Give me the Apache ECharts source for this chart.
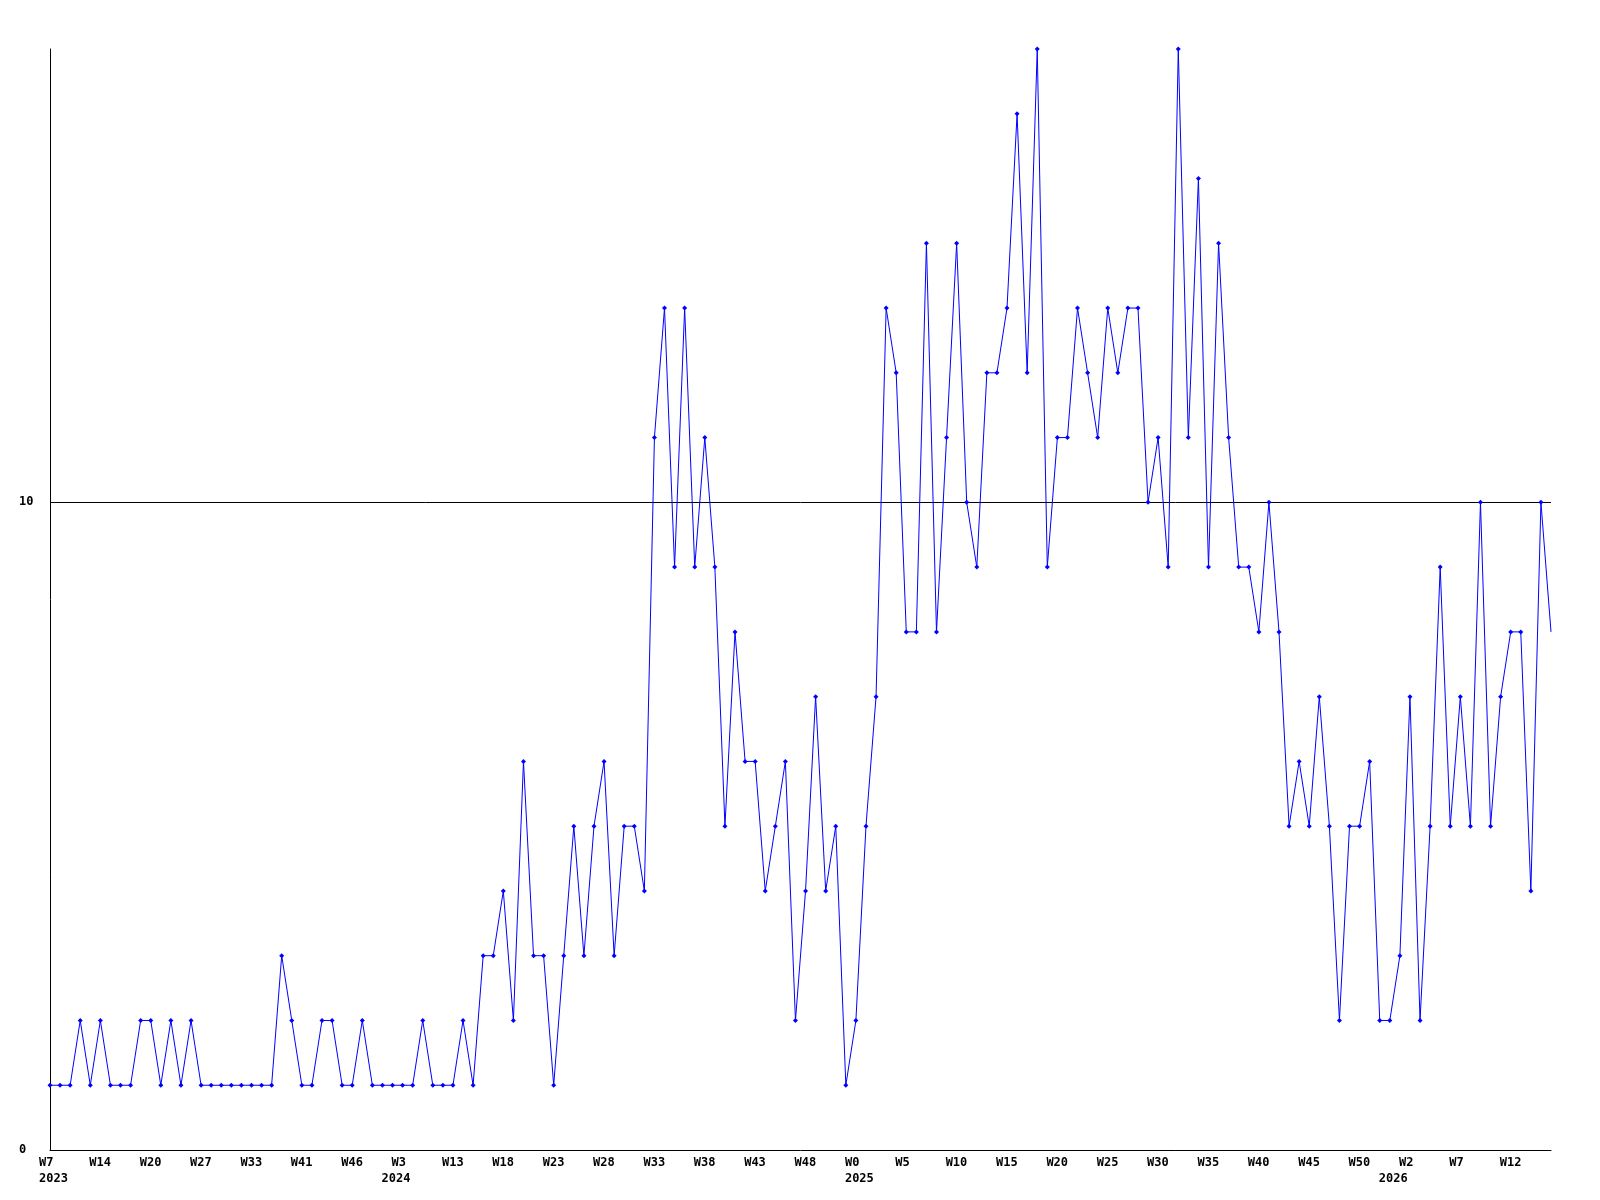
<!DOCTYPE html>
<html>
<head>
<meta charset="utf-8">
<script src="https://cdn.jsdelivr.net/npm/echarts@6/dist/echarts.min.js"></script>
<style>
  html, body { margin: 0; padding: 0; background: #ffffff; }
  #chart { width: 1600px; height: 1200px; }
</style>
</head>
<body>
<div id="chart"></div>
<script>
// Week tick labels shown on every 5th point
const tickLabels = ['W7','W14','W20','W27','W33','W41','W46','W3','W13','W18',
  'W23','W28','W33','W38','W43','W48','W0','W5','W10','W15',
  'W20','W25','W30','W35','W40','W45','W50','W2','W7','W12'];
// Year labels, placed at the first point of each year
const yearLabels = ['2023','2024','2025','2026'];
const yearStartIndex = [0, 34, 80, 133];

// Series values (one per point)
const values = [
  1,1,1,2,1,2,1,1,1,2, 2,1,2,1,2,1,1,1,1,1,
  1,1,1,3,2,1,1,2,2,1, 1,2,1,1,1,1,1,2,1,1,
  1,2,1,3,3,4,2,6,3,3, 1,3,5,3,5,6,3,5,5,4,
  11,13,9,13,9,11,9,5,8,6, 6,4,5,6,2,4,7,4,5,1,
  2,5,7,13,12,8,8,14,8,11, 14,10,9,12,12,13,16,12,17,9,
  11,11,13,12,11,13,12,13,13,10, 11,9,17,11,15,9,14,11,9,9,
  8,10,8,5,6,5,7,5,2,5, 5,6,2,2,3,7,2,5,9,5,
  7,5,10,5,7,8,8,4,10,8
];
const labelEvery = 5;
const yMax = 17;
const yInterval = 10;

const categories = values.map((_, i) => {
  const t = (i % labelEvery === 0) ? (tickLabels[i / labelEvery] || '') : '';
  const yi = yearStartIndex.indexOf(i);
  const y = yi >= 0 ? yearLabels[yi] : '';
  if (!t && !y) return '';
  return y ? t + '\n' + y : t;
});

const chart = echarts.init(document.getElementById('chart'), null, { renderer: 'canvas' });
const font = '"DejaVu Sans Mono", "Liberation Mono", monospace';

chart.setOption({
  backgroundColor: '#ffffff',
  animation: false,
  grid: { left: 50, right: 49, top: 49, bottom: 50 },
  xAxis: {
    type: 'category',
    data: categories,
    boundaryGap: false,
    axisLine: { show: true, lineStyle: { color: '#000000', width: 1 } },
    axisTick: { show: false },
    splitLine: { show: false },
    axisLabel: {
      interval: (index, value) => value !== '',
      hideOverlap: false,
      align: 'left',
      padding: [0, 0, 0, -11],
      margin: 5,
      color: '#000000',
      fontFamily: font,
      fontWeight: 'bold',
      fontSize: 12,
      lineHeight: 16
    }
  },
  yAxis: {
    type: 'value',
    min: 0,
    max: yMax,
    interval: yInterval,
    axisLine: { show: true, lineStyle: { color: '#000000', width: 1 } },
    axisTick: { show: false },
    splitLine: {
      show: true,
      showMinLine: false,
      showMaxLine: false,
      lineStyle: { color: '#000000', width: 1, type: 'solid' }
    },
    axisLabel: {
      showMaxLabel: false,
      align: 'left',
      margin: 31,
      padding: [4, 0, 0, 0],
      color: '#000000',
      fontFamily: font,
      fontWeight: 'bold',
      fontSize: 12
    }
  },
  series: [{
    type: 'line',
    data: values.map((v, i) => i === values.length - 1 ? { value: v, symbol: 'none' } : v),
    symbol: 'diamond',
    symbolSize: 5,
    showSymbol: true,
    showAllSymbol: true,
    lineStyle: { color: '#0000ff', width: 1 },
    itemStyle: { color: '#0000ff' },
    emphasis: { disabled: true },
    z: 3
  }]
});
</script>
</body>
</html>
